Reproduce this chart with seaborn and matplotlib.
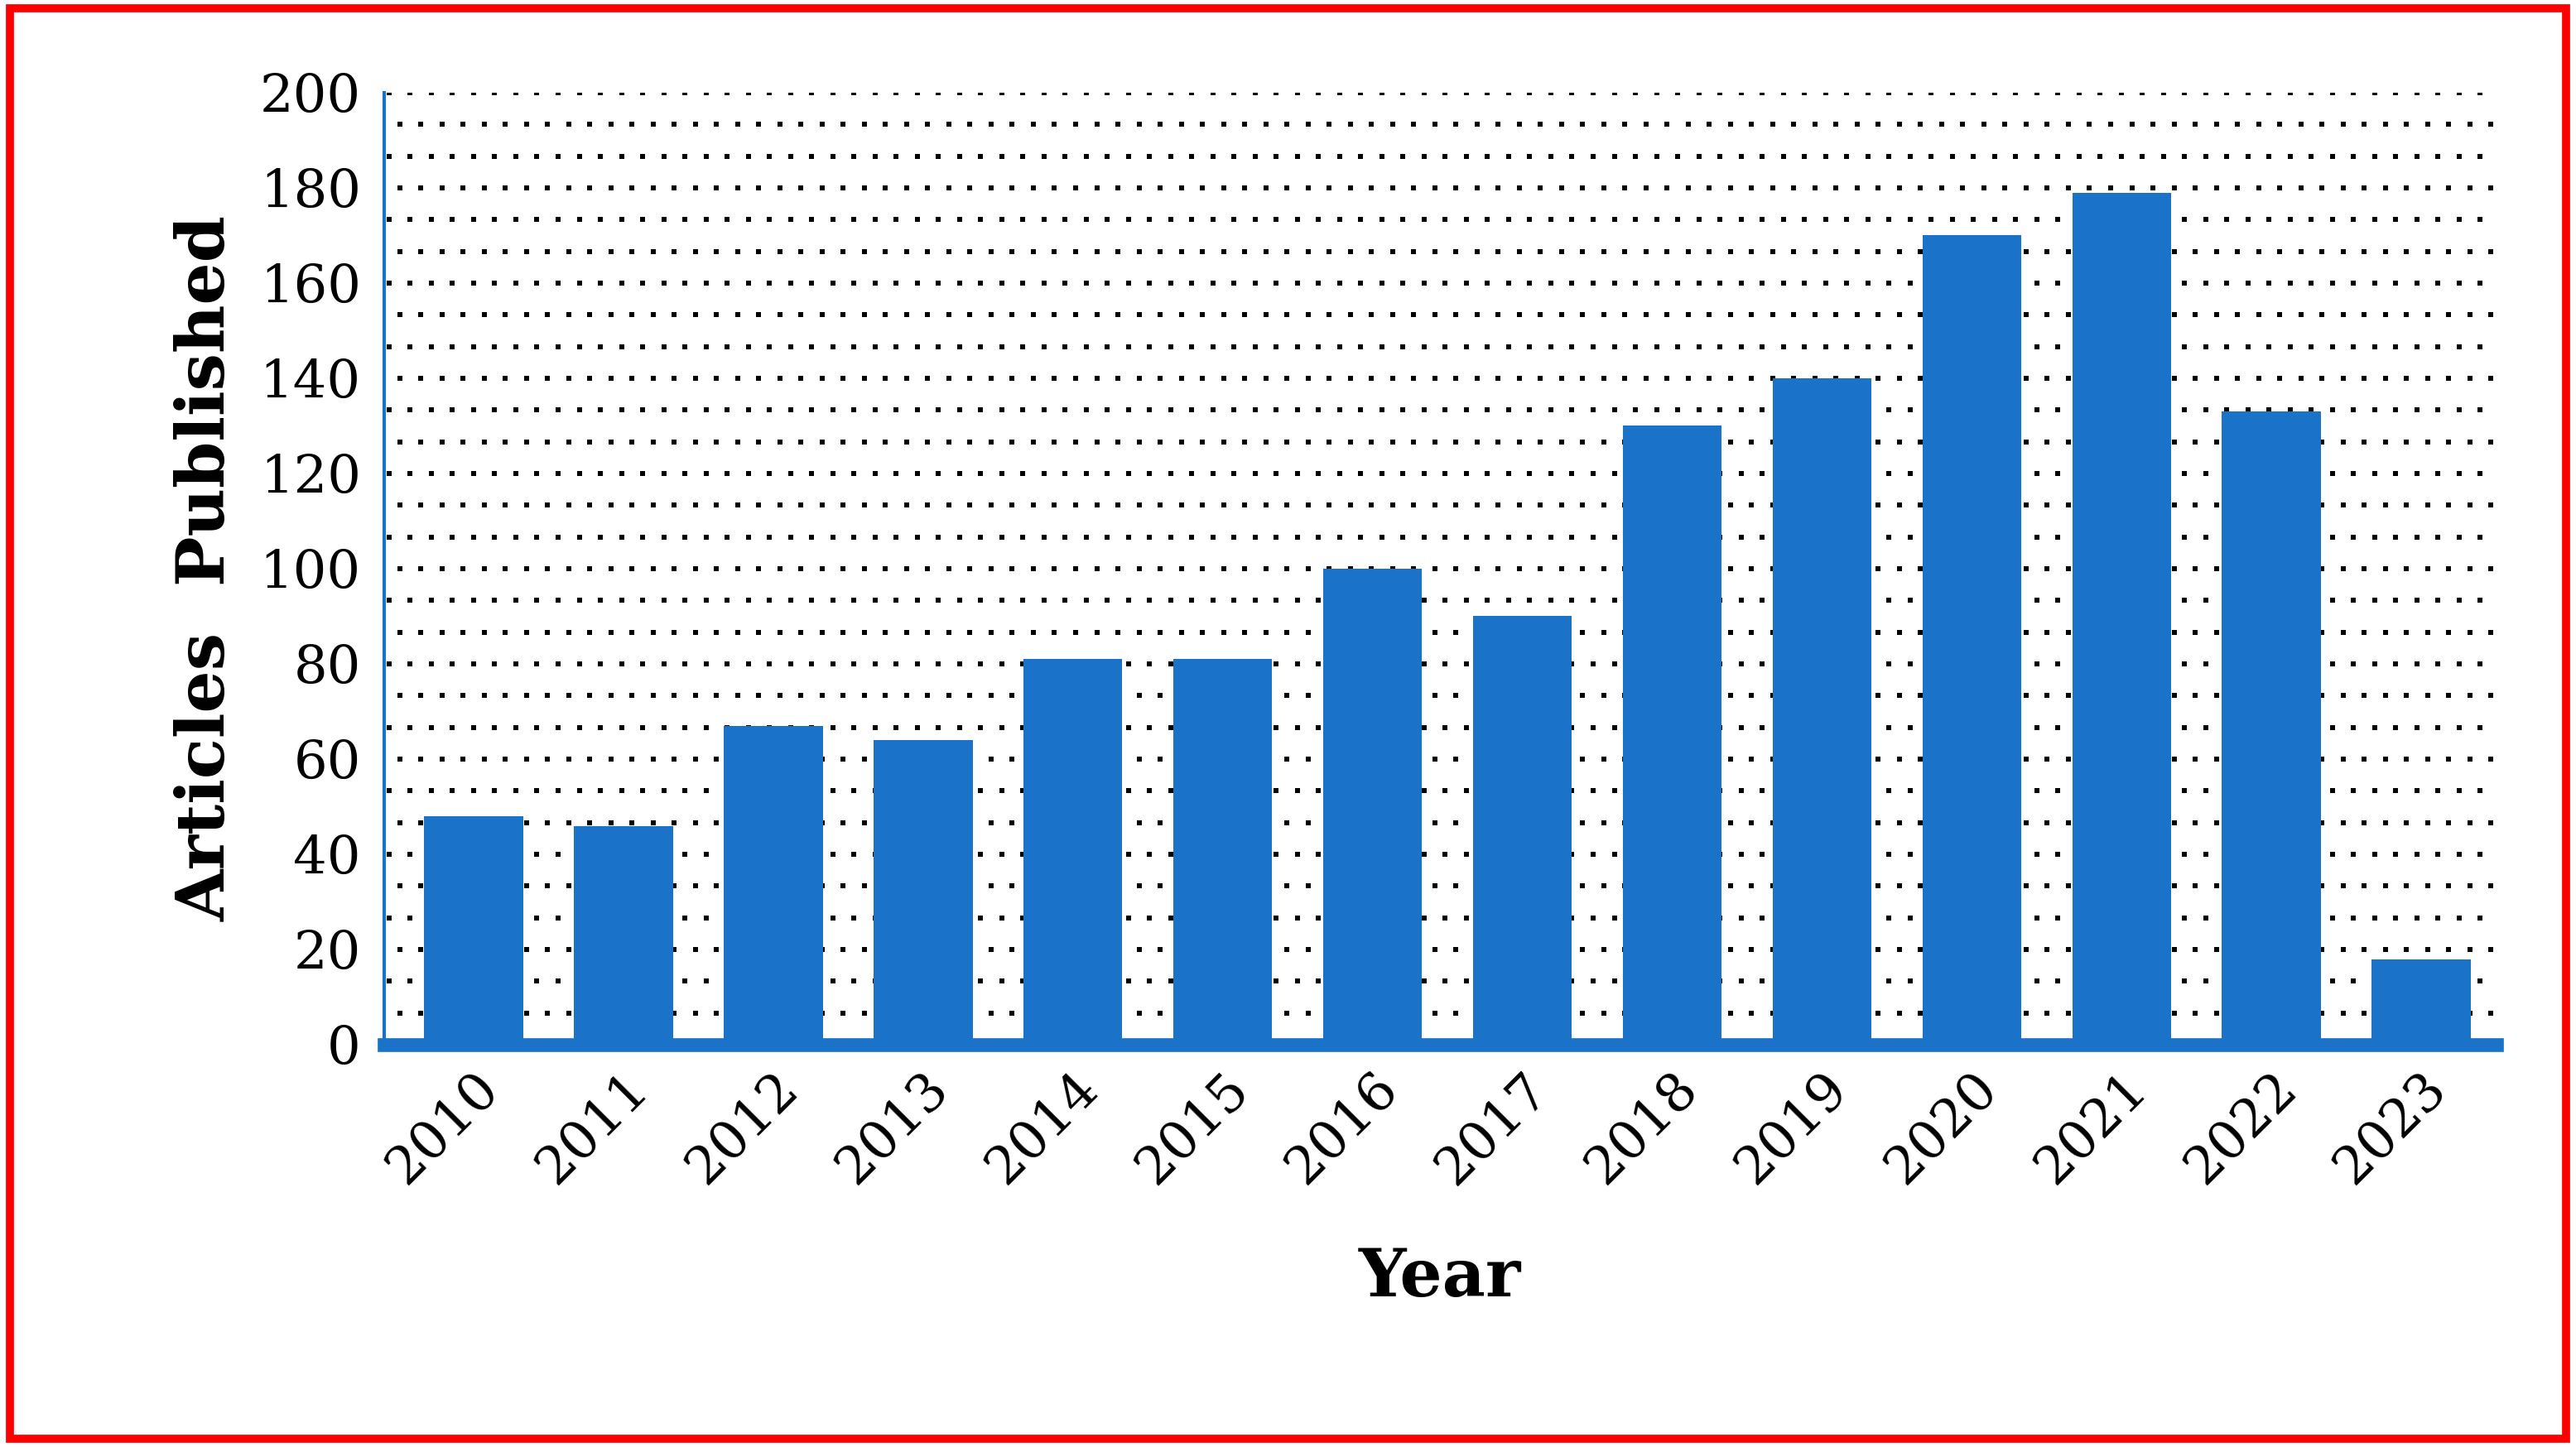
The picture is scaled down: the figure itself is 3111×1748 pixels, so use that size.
import matplotlib
matplotlib.use("Agg")
import matplotlib.pyplot as plt
import seaborn as sns
import pandas as pd
import numpy as np
from matplotlib.patches import Rectangle

years = ["2010", "2011", "2012", "2013", "2014", "2015", "2016",
         "2017", "2018", "2019", "2020", "2021", "2022", "2023"]
articles = [48, 46, 67, 64, 81, 81, 100, 90, 130, 140, 170, 179, 133, 18]

df = pd.DataFrame({"Year": years, "Articles": articles})

sns.set_theme(style="white")
plt.rcParams["font.family"] = ["DejaVu Serif"]
plt.rcParams["hatch.linewidth"] = 3.5

fig = plt.figure(figsize=(31.11, 17.48), dpi=100)
ax = fig.add_axes([0.149, 0.278, 0.82, 0.658])

# dotted plot-area background (decoration, staggered dot grid)
ncols, nrows = 100, 30
pts = []
for r in range(nrows + 1):
    off = 0.5 if r % 2 else 0.0
    xs = (np.arange(ncols) + off + 0.25) / ncols
    ys = np.full(ncols, r / nrows)
    pts.append(np.column_stack([xs, ys]))
pts = np.vstack(pts)
ax.scatter(pts[:, 0], pts[:, 1], transform=ax.transAxes, s=16, marker="s",
           color="black", linewidths=0, zorder=0, clip_on=True)

sns.barplot(data=df, x="Year", y="Articles", ax=ax, color="#d3e1f4",
            width=0.66, zorder=2, saturation=1)
for bar in ax.patches:
    bar.set_hatch("--------")
    bar.set_edgecolor("#1a73c8")
    bar.set_linewidth(0)

ax.set_ylim(0, 200)
ax.set_xlim(-0.6, 13.5)
ax.set_yticks(range(0, 201, 20))
ax.tick_params(axis="y", labelsize=46, pad=14, left=False, labelcolor="black")
ax.tick_params(axis="x", labelsize=46, bottom=False, pad=10, labelcolor="black")
plt.setp(ax.get_xticklabels(), rotation=45, ha="right", rotation_mode="anchor")
ax.set_xlabel("Year", fontsize=58, fontweight="bold", labelpad=45, color="black")
ax.set_ylabel("Articles  Published", fontsize=58, fontweight="bold", labelpad=18,
              color="black")

for side in ["top", "right"]:
    ax.spines[side].set_visible(False)
ax.spines["left"].set_color("#1a73c8")
ax.spines["left"].set_linewidth(3)
ax.spines["bottom"].set_color("#1a73c8")
ax.spines["bottom"].set_linewidth(12)

# red outer frame
fig.patches.append(Rectangle((0.004, 0.006), 0.992, 0.988, transform=fig.transFigure,
                             fill=False, edgecolor="#ff0000", lw=7))

fig.savefig("out.png", dpi=100)
